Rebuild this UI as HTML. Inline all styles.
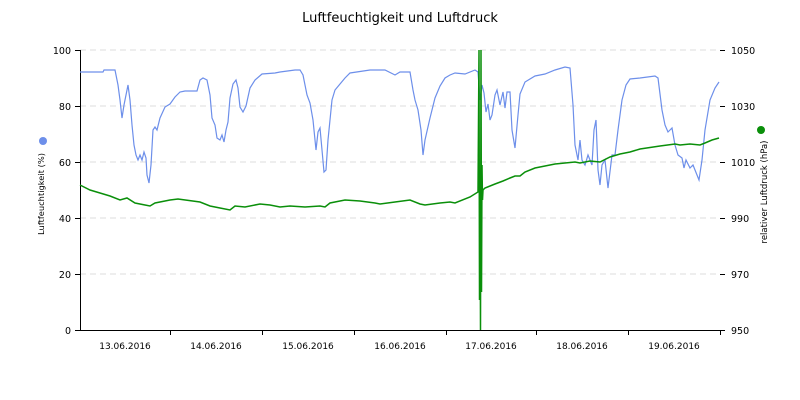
<!DOCTYPE html>
<html><head><meta charset="utf-8"><style>body{margin:0;background:#fff}svg{display:block;font-family:"DejaVu Sans",sans-serif}</style></head><body>
<svg width="800" height="400" xmlns="http://www.w3.org/2000/svg">
<text x="400" y="22" text-anchor="middle" font-size="13" fill="#000">Luftfeuchtigkeit und Luftdruck</text>
<g stroke="#ddd" stroke-dasharray="6,4">
<line x1="80" x2="720" y1="50" y2="50"/><line x1="80" x2="720" y1="106" y2="106"/><line x1="80" x2="720" y1="162" y2="162"/><line x1="80" x2="720" y1="218" y2="218"/><line x1="80" x2="720" y1="274" y2="274"/>
</g>
<g stroke="#000" fill="none">
<line x1="80.5" y1="50" x2="80.5" y2="330"/><line x1="80" y1="330.5" x2="721" y2="330.5"/>
<line x1="75" x2="80" y1="50.5" y2="50.5"/><line x1="75" x2="80" y1="106.5" y2="106.5"/><line x1="75" x2="80" y1="162.5" y2="162.5"/><line x1="75" x2="80" y1="218.5" y2="218.5"/><line x1="75" x2="80" y1="274.5" y2="274.5"/><line x1="75" x2="80" y1="330.5" y2="330.5"/>
<line x1="720" x2="725" y1="50.5" y2="50.5"/><line x1="720" x2="725" y1="106.5" y2="106.5"/><line x1="720" x2="725" y1="162.5" y2="162.5"/><line x1="720" x2="725" y1="218.5" y2="218.5"/><line x1="720" x2="725" y1="274.5" y2="274.5"/><line x1="720" x2="725" y1="330.5" y2="330.5"/>
<line x1="170.5" x2="170.5" y1="330" y2="335"/><line x1="262.5" x2="262.5" y1="330" y2="335"/><line x1="354.5" x2="354.5" y1="330" y2="335"/><line x1="446.5" x2="446.5" y1="330" y2="335"/><line x1="536.5" x2="536.5" y1="330" y2="335"/><line x1="628.5" x2="628.5" y1="330" y2="335"/><line x1="720.5" x2="720.5" y1="330" y2="335"/>
</g>
<g font-size="9.5" fill="#000" text-anchor="end">
<text x="71" y="54">100</text><text x="71" y="110">80</text><text x="71" y="166">60</text><text x="71" y="222">40</text><text x="71" y="278">20</text><text x="71" y="334">0</text>
</g>
<g font-size="9.5" fill="#000">
<text x="731" y="54">1050</text><text x="731" y="110">1030</text><text x="731" y="166">1010</text><text x="731" y="222">990</text><text x="731" y="278">970</text><text x="731" y="334">950</text>
</g>
<g font-size="9" fill="#000" text-anchor="middle">
<text x="125" y="349">13.06.2016</text><text x="216" y="349">14.06.2016</text><text x="308" y="349">15.06.2016</text><text x="400" y="349">16.06.2016</text><text x="491" y="349">17.06.2016</text><text x="582" y="349">18.06.2016</text><text x="674" y="349">19.06.2016</text>
</g>
<text transform="translate(44,194) rotate(-90)" font-size="8.3" text-anchor="middle">Luftfeuchtigkeit (%)</text>
<text transform="translate(767,192) rotate(-90)" font-size="8.5" text-anchor="middle">relativer Luftdruck (hPa)</text>
<circle cx="43" cy="141" r="4" fill="#6d8fea"/>
<circle cx="761" cy="130" r="4" fill="#0a8f0a"/>
<polyline fill="none" stroke="#6d8fea" stroke-width="1.2" points="80,72 103,72 104,70 115,70 118,85 120,100 122,118 124,105 127,90 128,85 130,100 132,125 134,145 136,155 138,160 140,155 142,160 144,152 146,158 147,175 149,183 151,165 153,130 155,127 157,130 160,118 165,107 170,104 175,97 180,92 185,91 197,91 200,80 203,78 207,80 210,95 212,118 215,125 217,138 220,140 222,135 224,142 226,130 228,122 230,98 233,84 236,80 238,88 240,107 243,112 246,106 250,88 255,80 262,74 275,73 280,72 295,70 300,70 303,75 307,95 310,103 313,120 315,140 316,150 318,132 320,128 322,150 324,172 326,170 328,140 330,120 332,100 335,90 340,84 345,78 350,73 370,70 385,70 395,75 400,72 410,72 413,90 415,100 418,110 421,130 423,155 425,140 430,118 435,98 440,86 445,78 450,75 455,73 465,74 475,70 478,72 480,100 482,85 484,93 486,112 488,104 490,120 492,115 495,95 497,90 500,105 503,92 505,108 507,92 510,92 512,130 515,148 518,115 520,94 525,82 535,76 545,74 555,70 565,67 570,68 573,105 575,145 578,160 580,140 582,160 585,165 588,155 592,165 594,130 596,120 598,170 600,185 602,165 605,160 608,188 612,155 615,155 618,130 622,100 626,85 630,79 640,78 655,76 658,78 662,110 665,125 668,132 672,128 675,145 678,155 682,158 684,168 686,160 690,168 693,165 697,175 699,180 702,160 705,130 710,100 715,88 719,82"/>
<polyline fill="none" stroke="#0a8f0a" stroke-width="1.5" points="80,185 90,190 100,193 110,196 120,200 127,198 135,203 145,205 150,206 155,203 170,200 178,199 200,202 210,206 220,208 230,210 235,206 245,207 260,204 270,205 280,207 290,206 305,207 320,206 325,207 330,203 345,200 360,201 375,203 380,204 395,202 410,200 420,204 425,205 440,203 450,202 455,203 470,197 478,192 479,50 479.5,300 480,170 480.5,330 481,50 481.5,292 482,165 482.5,200 483,190 485,188 495,184 503,181 510,178 515,176 520,176 525,172 535,168 545,166 555,164 565,163 575,162 580,163 590,161 600,162 610,157 620,154 630,152 640,149 660,146 675,144 680,145 690,144 700,145 705,143 712,140 719,138"/>
</svg>
</body></html>
